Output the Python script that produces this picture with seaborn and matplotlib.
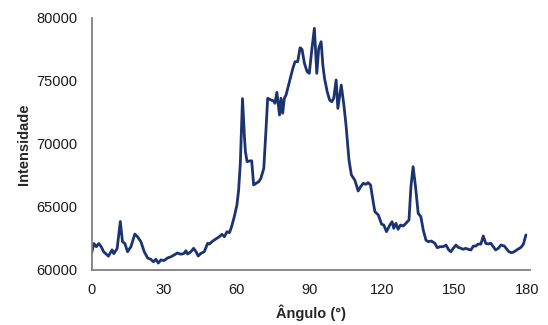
import matplotlib
matplotlib.use("Agg")
import matplotlib.pyplot as plt
import seaborn as sns
import pandas as pd

# Ângulo (graus) e intensidade medida
angulo = [0, 1, 2, 3, 4, 5, 7, 8.5, 9.2, 10.6, 11.9, 12.8, 13.8, 14.9, 16.3, 17.9, 19,
          20.4, 21.8, 23.2, 24.5, 25.6, 26.6, 27.6, 28.7, 30, 31.4, 32.8, 34.2, 35.5,
          36.9, 38.3, 39, 39.7, 41.1, 42.2, 43.2, 44.1, 45.2, 46.6, 48, 48.7, 50.1,
          51.4, 52.8, 53.9, 54.9, 56, 57, 57.9, 59, 60.1, 60.8, 61.5, 62, 62.4, 63.2,
          63.6, 64.3, 65.2, 66.2, 67, 68, 69.1, 70, 71.2, 72.1, 72.8, 74.2, 75.3,
          75.8, 76.6, 77.7, 78.3, 79, 79.7, 80.4, 81.8, 83.2, 84.1, 85.2, 86.2, 87,
          88, 89.1, 90, 91.1, 92.1, 93.1, 93.9, 94.9, 95.6, 96.3, 97.4, 98.4, 99.3,
          100.1, 101.1, 101.8, 103.2, 104.3, 105.2, 106.4, 107.4, 108.8, 110.2,
          111.2, 112.3, 113.4, 114.3, 115.3, 116.4, 117.1, 118.5, 119.9, 120.8,
          121.9, 123.3, 124.2, 124.9, 125.8, 126.7, 127.7, 128.8, 129.9, 131.2, 132,
          132.9, 133.9, 135, 136.1, 137.1, 138.2, 139.1, 140.5, 141.9, 142.9, 144,
          145.3, 146.5, 147.6, 148.5, 149.5, 150.6, 151.5, 152.7, 153.6, 154.6,
          155.7, 156.8, 157.8, 158.8, 159.8, 160.9, 161.9, 162.9, 163.9, 165, 166,
          167, 168.1, 169.2, 170.6, 171.6, 172.5, 173.6, 174.7, 176.1, 177.5, 178.5,
          179.5]

intensidade = [61300, 62100, 61850, 62100, 61850, 61450, 61100, 61600, 61300, 61700,
               63850, 62250, 62100, 61450, 61850, 62850, 62650, 62250, 61450, 60950,
               60850, 60650, 60850, 60550, 60800, 60750, 60950, 61050, 61200, 61350,
               61250, 61320, 61530, 61270, 61450, 61720, 61450, 61110, 61320, 61450,
               62120, 62060, 62300, 62460, 62640, 62830, 62640, 63040, 62960, 63440,
               64230, 65160, 66350, 68470, 71370, 73600, 70580, 69390, 68600, 68650,
               68670, 66750, 66880, 67010, 67280, 68070, 71110, 73630, 73490, 73410,
               73230, 74100, 72300, 73630, 72440, 73630, 73890, 74940, 76000, 76530,
               76530, 77640, 77510, 76400, 75740, 75610, 77590, 79180, 75610, 77590,
               78120, 76270, 75210, 74150, 73490, 73360, 73630, 75080, 72830, 74680,
               73090, 71450, 68730, 67540, 67140, 66270, 66610, 66880, 66800, 66930,
               66750, 65420, 64630, 64370, 63630, 63570, 63040, 63570, 63830, 63310,
               63700, 63230, 63570, 63490, 63700, 63970, 66610, 68200, 66610, 64500,
               64230, 63170, 62380, 62250, 62300, 62120, 61770, 61850, 61850, 61980,
               61600, 61450, 61720, 61980, 61800, 61720, 61640, 61720, 61640, 61590,
               61900, 61900, 62060, 62060, 62700, 62120, 62060, 62120, 61850, 61590,
               61720, 61980, 61900, 61670, 61450, 61370, 61450, 61640, 61800, 62060,
               62780]

x_ticks = [0, 30, 60, 90, 120, 150, 180]
y_ticks = [60000, 65000, 70000, 75000, 80000]

df = pd.DataFrame({"Ângulo (°)": angulo, "Intensidade": intensidade})

sns.set_style("white")
plt.rcParams["font.family"] = ["Liberation Sans", "DejaVu Sans"]

fig = plt.figure(figsize=(5.48, 3.25), dpi=100)
ax = fig.add_axes([91.5 / 548, 1 - 270 / 325, (529.5 - 91.5) / 548, (270 - 18) / 325])

sns.lineplot(data=df, x="Ângulo (°)", y="Intensidade", ax=ax,
             color="#1B3370", linewidth=2.0, estimator=None)

ax.set_xlim(0, 181)
ax.set_ylim(60000, 80000)
ax.set_xticks(x_ticks)
ax.set_yticks(y_ticks)
ax.tick_params(axis="both", length=0, labelsize=10.5, colors="#1a1a1a")
ax.tick_params(axis="x", pad=9)
ax.tick_params(axis="y", pad=10)

for side in ("top", "right"):
    ax.spines[side].set_visible(False)
for side in ("left", "bottom"):
    ax.spines[side].set_color("#808080")
    ax.spines[side].set_linewidth(1.3)

ax.set_xlabel("Ângulo (°)", fontsize=10.5, fontweight="bold", labelpad=6)
ax.set_ylabel("Intensidade", fontsize=10.5, fontweight="bold", labelpad=4)

fig.savefig("out.png", dpi=100)
